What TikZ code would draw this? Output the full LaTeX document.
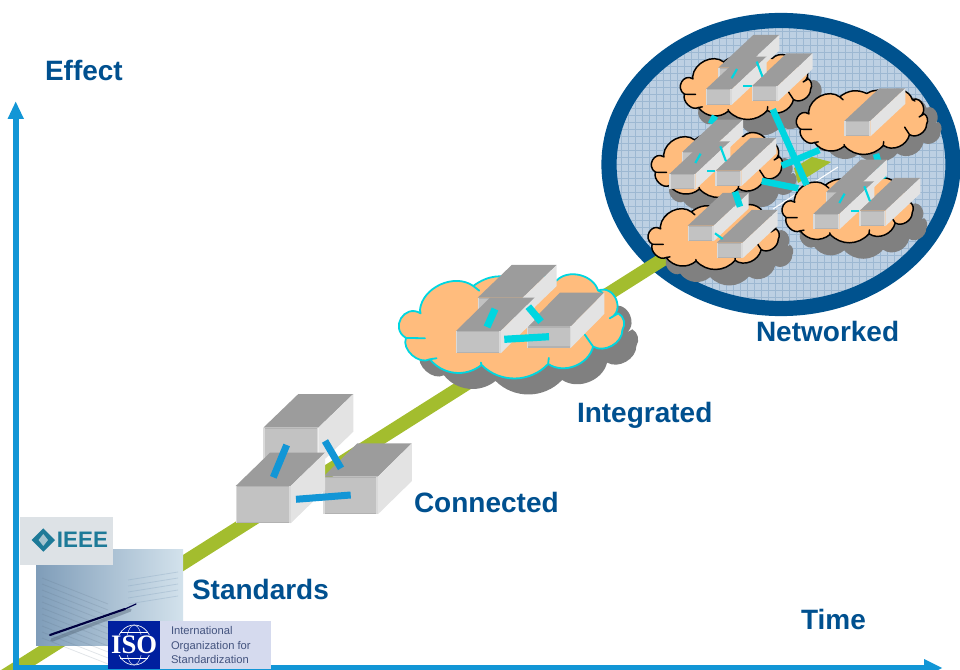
\documentclass[tikz,border=0pt]{standalone}
\usepackage{fontspec}
\setmainfont{Liberation Sans}
\newfontfamily\isofont{Liberation Serif}
\definecolor{labelblue}{HTML}{00508F}
\definecolor{axisblue}{HTML}{1296D6}
\definecolor{barcyan}{HTML}{00D6E0}
\definecolor{bargreen}{HTML}{A3BD2E}
\definecolor{ringblue}{HTML}{00528E}
\definecolor{cloudfill}{HTML}{FFBC7D}
\definecolor{shadowgrey}{HTML}{808080}
\definecolor{boxtop}{HTML}{9C9C9C}
\definecolor{boxfront}{HTML}{C2C2C2}
\definecolor{boxedge}{HTML}{B2B2B2}
\definecolor{boxside}{HTML}{E3E3E3}
\definecolor{meshfill}{HTML}{BDD0E3}
\definecolor{meshline}{HTML}{9DB8D2}
\definecolor{photodark}{HTML}{7F9DB9}
\definecolor{photolight}{HTML}{D3E2EC}
\definecolor{ieeeback}{HTML}{DDE2E6}
\definecolor{ieeeteal}{HTML}{1D7A98}
\definecolor{isoblue}{HTML}{00209F}
\definecolor{isoback}{HTML}{D5DAEE}
\definecolor{isotext}{HTML}{44547F}
\tikzset{
  every node/.style={inner sep=0pt,outer sep=0pt},
  lbl/.style={font=\fontsize{21}{24}\selectfont\bfseries,text=labelblue,anchor=base west},
  puff/.style={bend left=#1},
  bluebar/.style={axisblue,line width=5.25pt},
  cyanbar/.style={barcyan,line width=5.4pt},
  midbar/.style={barcyan,line width=4.9pt},
  thinbar/.style={barcyan,line width=1.6pt},
  axisline/.style={axisblue,line width=4.5pt},
}
\def\cloudshape{(122,190) -- (120,180) to[puff=60] (280,108) -- (298,122) -- (280,108)
 to[puff=30] (420,92) to[puff=30] (530,92) to[puff=60] (655,122) -- (668,128) -- (655,122)
 to[puff=90,looseness=1.5] (690,205) -- (716,190) to[puff=45] (728,240) to[puff=60] (640,290) -- (615,254) -- (640,290)
 to[puff=55] (505,342) -- (507,324) -- (505,342)
 to[puff=46] (305,345) -- (303,338) -- (305,345)
 to[puff=45] (150,328) -- (170,325) -- (150,328)
 to[puff=70] (78,264) -- (135,265) -- (78,264)
 to[puff=90,looseness=1.7] (122,190) -- cycle}
% #1 x, #2 y, #3 xscale, #4 yscale, #5 outline colour, #6 outline width, #7 shadow dx, #8 shadow dy
\newcommand\puffcloud[8]{%
  \begin{scope}[shift={(#1+#7,#2+#8)},xscale=#3,yscale=#4,shift={(-55,-75)}]
    \fill[shadowgrey] \cloudshape;
  \end{scope}
  \begin{scope}[shift={(#1,#2)},xscale=#3,yscale=#4,shift={(-55,-75)}]
    \filldraw[fill=cloudfill,draw=#5,line width=#6,line join=round] \cloudshape;
  \end{scope}}
% #1 x, #2 y of the front top-left corner, #3 w, #4 h, #5 dx, #6 dy
\newcommand\bricks[6]{%
  \fill[boxtop] (#1,#2) -- ++(#5,-#6) -- ++(#3,0) -- ++(-#5,#6) -- cycle;
  \fill[boxside] (#1+#3,#2) -- ++(#5,-#6) -- ++(0,#4) -- ++(-#5,#6) -- cycle;
  \fill[boxfront] (#1,#2) rectangle ++(#3,#4);
  \fill[boxedge] (#1,#2) rectangle ++(#3,1.2);
  \fill[boxedge] (#1,#2+#4-1.2) rectangle ++(#3,1.2);
  \fill[boxfront!60!white] (#1,#2) rectangle ++(1.2,#4);
  \fill[boxside!70!boxfront] (#1+#3-1.5,#2) rectangle ++(1.5,#4);}
\newcommand\smallbrick[2]{\bricks{#1}{#2}{26}{15.5}{35}{32.7}}
% cluster of three small boxes, located by its front box
\newcommand\trio[2]{%
  \smallbrick{#1+12.7}{#2-21.7}
  \smallbrick{#1+46}{#2-3.3}
  \smallbrick{#1}{#2}
  \draw[thinbar] (#1+31.3,#2-20.3) -- (#1+26,#2-11);
  \draw[thinbar] (#1+51,#2-27.7) -- (#1+56.7,#2-12.7);
  \draw[thinbar] (#1+37.7,#2-3) -- (#1+46,#2-3);}
\begin{document}
\begin{tikzpicture}[x=0.75pt,y=-0.75pt]
\useasboundingbox (0,0) rectangle (960,670);
\clip (0,0) rectangle (960,670);

% network ellipse
\begin{scope}
  \clip (781,164.5) ellipse [x radius=172,y radius=144];
  \fill[meshfill] (600,10) rectangle (960,320);
  \foreach \gx in {600,607,...,960} \draw[meshline,line width=.25pt] (\gx,10) -- (\gx,320);
  \foreach \gy in {10,17,...,320} \draw[meshline,line width=.25pt] (600,\gy) -- (960,\gy);
\end{scope}
\draw[ringblue,line width=11.4pt] (781,164.5) ellipse [x radius=172,y radius=144];

% green time line
\fill[bargreen] (-2,672) -- (665,250) -- (669,263.5) -- (24,672) -- cycle;
\fill[bargreen] (794,168) -- (812,157) -- (831,162) -- (798,183) -- cycle;
\draw[white,line width=.8pt] (773,209) -- (838,167);

% axes
\draw[axisline] (16,670) -- (16,115);
\fill[axisblue] (15.7,101.7) -- (24,119) -- (7.5,119) -- cycle;
\draw[axisline] (13,667.5) -- (930,667.5);
\fill[axisblue] (942,668) -- (924,659) -- (924,677) -- cycle;

% picture group, lower left
\shade[left color=photodark,right color=photolight] (36,549) rectangle (183,645);
\foreach \ly in {0,6,...,60}
  \draw[photodark!70!black,opacity=.18,line width=.6pt] (42,578+\ly) -- (108,604+\ly);
\foreach \ly in {0,6,...,24}
  \draw[photodark,opacity=.3,line width=.6pt] (128,580+\ly) -- (178,572+\ly);
\draw[photodark!60!black,opacity=.4,line width=2.6pt,line cap=round] (52,640) -- (130,610);
\draw[black!75!blue,line width=1.6pt,line cap=round] (50,635) -- (125,609);
\draw[black!70!blue,line width=.9pt,line cap=round] (125,609) -- (136,604);

\fill[ieeeback] (20,517) rectangle (113,565);
\fill[ieeeteal] (31.6,540) -- (43.3,528.3) -- (55,540) -- (43.3,551.7) -- cycle;
\fill[ieeeback!70!ieeeteal] (43.3,534) -- (48,540) -- (43.3,546) -- (38.6,540) -- cycle;
\node[font=\fontsize{16.8}{18}\selectfont\bfseries,text=ieeeteal] (ieee) at (82.5,540) {IEEE};

\fill[isoback] (108,621) rectangle (271,669);
\fill[isoblue] (108,621) rectangle (160,669);
\draw[white,line width=.5pt] (134.2,645) ellipse [x radius=17.5,y radius=20];
\draw[white,line width=.3pt] (134.2,645) ellipse [x radius=8,y radius=20];
\draw[white,line width=.3pt] (120,632) -- (148,632) (120,658) -- (148,658);
\fill[isoblue] (110,635) rectangle (158,655);
\node[font=\isofont\fontsize{20}{20}\selectfont\bfseries,text=white] (iso) at (134.2,645) {ISO};
\node[font=\fontsize{8.4}{10.6}\selectfont,text=isotext,anchor=west,align=left] (isoname) at (171,645) {International\\Organization for\\Standardization};

% labels
\node[lbl] (effect) at (45,81) {Effect};
\node[lbl] (time) at (801,629) {Time};
\node[lbl] (standards) at (192,599) {Standards};
\node[lbl] (connected) at (414,512) {Connected};
\node[lbl] (integrated) at (577,422) {Integrated};
\node[lbl] (networked) at (756,341) {Networked};

% connected
\bricks{263.3}{427.7}{55}{37.7}{35}{33.7}
\bricks{323.3}{476.7}{54.5}{37.7}{34}{33.3}
\bricks{235.7}{486}{55}{37.3}{34.3}{33.3}
\draw[bluebar] (286.7,445) -- (273.3,477.3);
\draw[bluebar] (325,441) -- (341,468.3);
\draw[bluebar] (296,499.3) -- (350.7,495);

% integrated
\puffcloud{398.3}{275}{.333}{.333}{barcyan}{1.35pt}{14}{16}
\bricks{477.7}{297.7}{45}{21}{34}{32.7}
\bricks{526.7}{326.3}{44.3}{21.3}{33.3}{33.7}
\bricks{456}{331}{44.7}{22.3}{34}{33.3}
\draw[cyanbar] (495,309) -- (487,327);
\draw[cyanbar] (528.3,306.7) -- (541,321.7);
\draw[cyanbar] (504.3,339.3) -- (549,336.7);

% networked clouds
\puffcloud{680}{55}{.194}{.2075}{black}{1.1pt}{14}{16}
\puffcloud{796}{90}{.194}{.2075}{black}{1.1pt}{14}{8}
\puffcloud{651}{133}{.194}{.2075}{black}{1.1pt}{14}{16}
\puffcloud{781.7}{178.3}{.194}{.2075}{black}{1.1pt}{14}{16}
\puffcloud{647.7}{205}{.194}{.2075}{black}{1.1pt}{14}{16}

\draw[midbar] (715,116) -- (711,124);
\draw[midbar] (772.7,109.3) -- (806.7,185);
\draw[midbar] (781.7,165.7) -- (819.3,150);
\draw[midbar] (761.7,181) -- (798.3,188.3);
\draw[midbar] (876,154) -- (883.3,179);

\trio{705.7}{89.3}
\trio{669.3}{174}
\trio{813.3}{214}
\smallbrick{844.3}{121}
\smallbrick{687.7}{225.7}
\smallbrick{716.7}{242.7}
\draw[thinbar] (715,233.3) -- (722.7,239);
\draw[midbar] (735,191.7) -- (740,206.7);
\end{tikzpicture}
\end{document}
